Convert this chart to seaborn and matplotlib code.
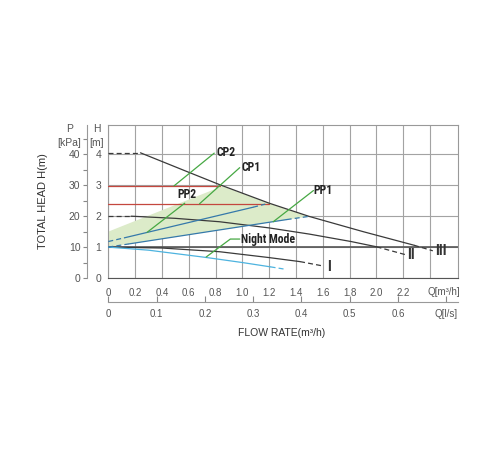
import matplotlib
matplotlib.use("Agg")
import matplotlib.pyplot as plt
import seaborn as sns

# pump curves, Q in m3/h, H in m
q_III = [0.24, 0.6, 0.83, 1.2, 1.5, 1.9, 2.28]
h_III = [4.05, 3.42, 3.02, 2.42, 1.99, 1.5, 1.06]
q_III_dash_a = [0, 0.24]
h_III_dash_a = [4.05, 4.05]
q_III_dash_b = [2.28, 2.42]
h_III_dash_b = [1.06, 0.88]

q_II = [0.17, 0.5, 0.83, 1.2, 1.5, 1.81, 2.0]
h_II = [2.0, 1.93, 1.82, 1.62, 1.42, 1.18, 1.01]
q_II_dash_a = [0, 0.17]
h_II_dash_a = [2.0, 2.0]
q_II_dash_b = [2.0, 2.22]
h_II_dash_b = [1.01, 0.75]

q_I = [0, 0.4, 0.83, 1.2, 1.43]
h_I = [1.0, 0.97, 0.85, 0.66, 0.53]
q_I_dash = [1.43, 1.6]
h_I_dash = [0.53, 0.39]

q_night = [0, 0.3, 0.72, 1.0, 1.21]
h_night = [1.0, 0.9, 0.67, 0.5, 0.36]
q_night_dash = [1.21, 1.31]
h_night_dash = [0.36, 0.29]

q_pp2 = [0.12, 1.08]
h_pp2 = [1.30, 2.29]
q_pp2_dash_a = [0, 0.12]
h_pp2_dash_a = [1.18, 1.30]
q_pp2_dash_b = [1.08, 1.17]
h_pp2_dash_b = [2.29, 2.39]

q_pp1 = [0.15, 1.33]
h_pp1 = [1.10, 1.89]
q_pp1_dash_a = [0, 0.15]
h_pp1_dash_a = [1.0, 1.10]
q_pp1_dash_b = [1.33, 1.49]
h_pp1_dash_b = [1.89, 1.99]

q_cp2 = [0, 0.83]
h_cp2 = [2.98, 2.98]
q_cp1 = [0, 1.2]
h_cp1 = [2.4, 2.4]

# shaded proportional-pressure area
q_area = [0, 0, 0.85, 1.2, 1.49, 0]
h_area = [1.0, 1.5, 2.97, 2.42, 1.99, 1.0]

# leader lines and their labels
leaders = {
    "CP2": ([0.49, 0.79], [2.98, 4.04]),
    "CP1": ([0.68, 0.98], [2.40, 3.57]),
    "PP2": ([0.29, 0.57], [1.48, 2.42]),
    "PP1": ([1.23, 1.53], [1.82, 2.83]),
    "Night Mode": ([0.73, 0.91, 0.98], [0.68, 1.26, 1.26]),
}
label_pos = {
    "CP2": (0.81, 4.05, "left"),
    "CP1": (0.99, 3.57, "left"),
    "PP2": (0.59, 2.69, "center"),
    "PP1": (1.53, 2.83, "left"),
    "Night Mode": (0.99, 1.26, "left"),
}
roman = {"I": (1.63, 0.36), "II": (2.23, 0.73), "III": (2.44, 0.86)}

q_ticks = [0, 0.2, 0.4, 0.6, 0.8, 1.0, 1.2, 1.4, 1.6, 1.8, 2.0, 2.2, 2.4]
q_labels = ["0", "0.2", "0.4", "0.6", "0.8", "1.0", "1.2", "1.4", "1.6", "1.8", "2.0", "2.2", ""]
ls_ticks = [0, 0.1, 0.2, 0.3, 0.4, 0.5, 0.6, 0.7]
ls_labels = ["0", "0.1", "0.2", "0.3", "0.4", "0.5", "0.6", "Q[l/s]"]
h_ticks = [0, 1, 2, 3, 4]
p_ticks = [0, 10, 20, 30, 40]

sns.set_style("white")
plt.rcParams["font.family"] = ["Liberation Sans", "DejaVu Sans"]
narrow = ["Roboto Condensed", "DejaVu Sans"]

BLACK = "#3a3a3a"
RED = "#c4473e"
BLUE = "#3579aa"
CYAN = "#4db3df"
GREEN = "#46a843"
FILL = "#dcebc9"
TICK = "#555555"
DASH = (0, (4, 2.5))

fig = plt.figure(figsize=(5, 4.5), dpi=100)
ax = fig.add_axes([108.3 / 500, 1 - 278 / 450, 350 / 500, 153 / 450])
ax.set_xlim(0, 2.61)
ax.set_ylim(0, 4.95)

ax.fill(q_area, h_area, color=FILL, lw=0, zorder=1)

ax.set_xticks(q_ticks)
ax.set_xticklabels(q_labels)
ax.set_xticks([0.1, 0.3, 0.5, 0.7, 0.9, 1.1, 1.3, 1.5, 1.7, 1.9, 2.1, 2.3, 2.5], minor=True)
ax.set_yticks(h_ticks)
ax.set_yticks([0.5, 1.5, 2.5, 3.5, 4.5], minor=True)
ax.grid(True, which="major", color="#a3a3a3", lw=0.8, zorder=0)
ax.axhline(1, color="#555555", lw=1.2, zorder=2)
ax.tick_params(axis="x", which="both", direction="inout", length=5, width=0.8,
               color="#666666", labelsize=7, labelcolor=TICK, pad=5)
ax.tick_params(axis="x", which="minor", length=3)
ax.tick_params(axis="y", which="both", direction="out", length=3, width=0.8,
               color="#888888", labelsize=7.5, labelcolor=TICK, pad=2)
for s in ax.spines.values():
    s.set_color("#999999")
    s.set_linewidth(0.8)
ax.spines["bottom"].set_color("#555555")

def draw(q, h, color, dashed=False, lw=0.9):
    sns.lineplot(x=q, y=h, ax=ax, color=color, lw=lw, sort=False,
                 linestyle=DASH if dashed else "-", zorder=3)

draw(q_cp2, h_cp2, RED)
draw(q_cp1, h_cp1, RED)
draw(q_III, h_III, BLACK)
draw(q_III_dash_a, h_III_dash_a, BLACK, True)
draw(q_III_dash_b, h_III_dash_b, BLACK, True)
draw(q_II, h_II, BLACK)
draw(q_II_dash_a, h_II_dash_a, BLACK, True)
draw(q_II_dash_b, h_II_dash_b, BLACK, True)
draw(q_I, h_I, BLACK)
draw(q_I_dash, h_I_dash, BLACK, True)
draw(q_night, h_night, CYAN)
draw(q_night_dash, h_night_dash, CYAN, True)
draw(q_pp2, h_pp2, BLUE)
draw(q_pp2_dash_a, h_pp2_dash_a, BLUE, True)
draw(q_pp2_dash_b, h_pp2_dash_b, BLUE, True)
draw(q_pp1, h_pp1, BLUE)
draw(q_pp1_dash_a, h_pp1_dash_a, BLUE, True)
draw(q_pp1_dash_b, h_pp1_dash_b, BLUE, True)

for name, (lq, lh) in leaders.items():
    draw(lq, lh, GREEN)
    tx, ty, ha = label_pos[name]
    ax.text(tx, ty, name, ha=ha, va="center", fontsize=8.5, fontweight="bold",
            family=narrow, color="#222222", zorder=5)
for name, (tx, ty) in roman.items():
    ax.text(tx, ty, name, ha="left", va="center", fontsize=10.5, fontweight="bold",
            family=narrow, color="#333333", zorder=5)

ax.set_xlabel("")
ax.set_ylabel("")
ax.text(2.5, -0.094, "Q[m³/h]", transform=ax.get_xaxis_transform(), ha="center",
        va="center", fontsize=7, color=TICK)

# second flow axis, l/s
sec = ax.secondary_xaxis(-0.159, functions=(lambda q: q / 3.6, lambda l: l * 3.6))
sec.set_xticks(ls_ticks)
sec.set_xticklabels(ls_labels)
sec.tick_params(direction="in", length=4, width=0.8, color="#888888",
                labelsize=7, labelcolor=TICK, pad=5)
sec.spines["bottom"].set_color("#999999")
sec.spines["bottom"].set_linewidth(0.8)

# pressure axis, kPa
pax = ax.secondary_yaxis(-0.06, functions=(lambda h: h * 10, lambda p: p / 10))
pax.set_yticks(p_ticks)
pax.set_yticks([5, 15, 25, 35, 45], minor=True)
pax.tick_params(which="both", direction="out", length=3, width=0.8, color="#888888",
                labelsize=7.5, labelcolor=TICK, pad=2)
pax.spines["left"].set_color("#999999")
pax.spines["left"].set_linewidth(0.8)

fig.text(69.5 / 500, 1 - 129 / 450, "P", ha="center", va="center", fontsize=7.5, color=TICK)
fig.text(69 / 500, 1 - 143 / 450, "[kPa]", ha="center", va="center", fontsize=7.5, color=TICK)
fig.text(97 / 500, 1 - 129 / 450, "H", ha="center", va="center", fontsize=7.5, color=TICK)
fig.text(96.5 / 500, 1 - 143 / 450, "[m]", ha="center", va="center", fontsize=7.5, color=TICK)
fig.text(43.3 / 500, 1 - 201.5 / 450, "TOTAL HEAD H(m)", rotation=90, ha="center",
         va="center", fontsize=8, color="#333333")
fig.text(282 / 500, 1 - 333 / 450, "FLOW RATE(m³/h)", ha="center", va="center",
         fontsize=7.5, color="#333333")

fig.savefig("out.png", dpi=100)
